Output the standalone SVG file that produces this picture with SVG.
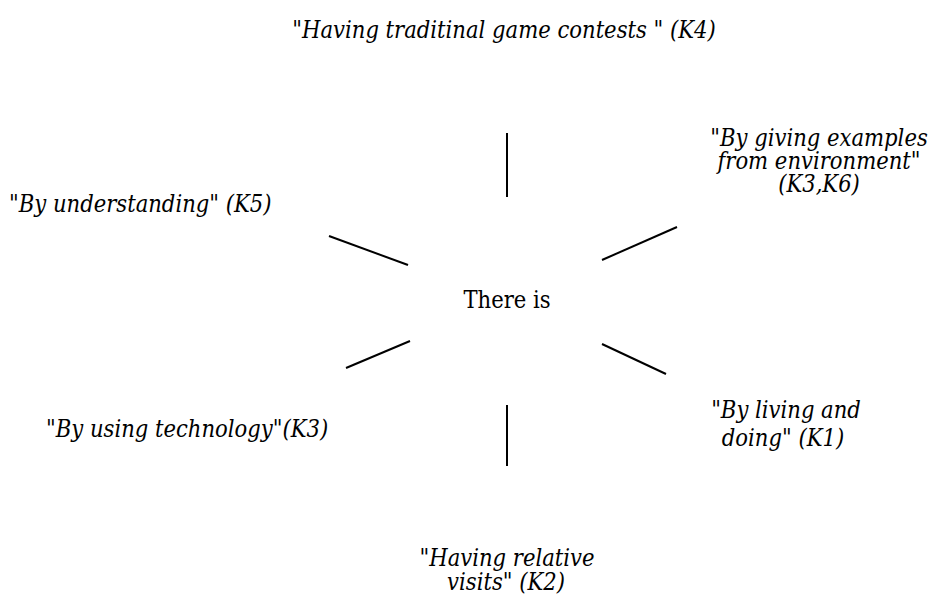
<svg xmlns="http://www.w3.org/2000/svg" width="932" height="595" viewBox="0 0 932 595">
<style>
text{font-family:'DejaVu Serif Condensed','DejaVu Serif',serif;font-stretch:condensed;font-size:23.5px;fill:#000}
.i{font-style:italic}
.c{text-anchor:middle}
line{stroke:#000;stroke-width:2}
</style>
<rect width="932" height="595" fill="#fff"/>
<g id="connectors">
<line x1="507" y1="133" x2="507" y2="197"/>
<line x1="507" y1="405" x2="507" y2="466"/>
<line x1="329" y1="236" x2="408" y2="265"/>
<line x1="602" y1="260" x2="677" y2="227"/>
<line x1="346" y1="368" x2="410" y2="341"/>
<line x1="602" y1="344" x2="666" y2="374"/>
</g>
<g id="center"><text class="c" x="507" y="308">There is</text></g>
<g id="k4"><text class="i c" x="504" y="38">"Having traditinal game contests " (K4)</text></g>
<g id="k3k6"><text class="i c"><tspan x="819" y="146">"By giving examples</tspan><tspan x="819" y="169">from environment"</tspan><tspan x="819" y="192">(K3,K6)</tspan></text></g>
<g id="k5"><text class="i" x="9" y="212">"By understanding" (K5)</text></g>
<g id="k3"><text class="i" x="46" y="437">"By using technology"(K3)</text></g>
<g id="k1"><text class="i c"><tspan x="786" y="418">"By living and</tspan><tspan x="783" y="446">doing" (K1)</tspan></text></g>
<g id="k2"><text class="i c"><tspan x="507" y="566">"Having relative</tspan><tspan x="506" y="590">visits" (K2)</tspan></text></g>
</svg>
